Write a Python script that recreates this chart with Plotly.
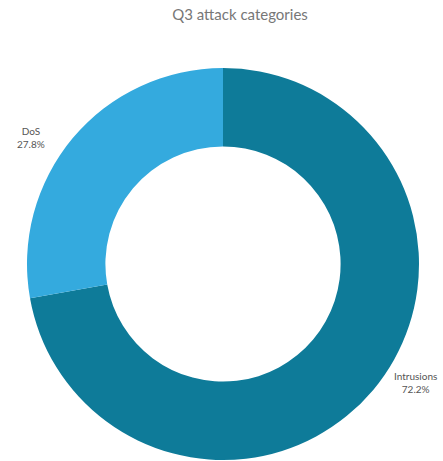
import math
import plotly.graph_objects as go

# Share of Q3 attack categories
categories = ["Intrusions", "DoS"]
shares = [72.2, 27.8]
slice_colors = ["#0e7b99", "#34aade"]

W, H = 443, 461
MARGIN = dict(l=3, r=0, t=68, b=1)

fig = go.Figure(
    go.Pie(
        labels=categories,
        values=shares,
        hole=0.6,
        sort=False,
        direction="clockwise",
        rotation=0,
        marker=dict(colors=slice_colors, line=dict(width=0)),
        textinfo="none",
        showlegend=False,
        hoverinfo="label+percent",
        domain=dict(x=[0, 1], y=[0, 1]),
    )
)

# Outside labels placed along each slice's mid-angle (clockwise from 12 o'clock)
plot_w = W - MARGIN["l"] - MARGIN["r"]
plot_h = H - MARGIN["t"] - MARGIN["b"]
radius = min(plot_w, plot_h) / 2
cx = MARGIN["l"] + plot_w / 2
cy = MARGIN["t"] + plot_h / 2
label_rise = 4  # px, lifts the two-line labels slightly
total = sum(shares)
start = 0.0
for name, val in zip(categories, shares):
    frac = val / total
    mid = (start + frac / 2) * 2 * math.pi
    start += frac
    lx = cx + 1.28 * radius * math.sin(mid)
    ly = cy - 0.97 * radius * math.cos(mid) - label_rise
    fig.add_annotation(
        text=f"{name}<br>{frac * 100:.1f}%",
        x=(lx - MARGIN["l"]) / plot_w,
        y=(H - MARGIN["b"] - ly) / plot_h,
        xref="paper",
        yref="paper",
        xanchor="center",
        yanchor="middle",
        showarrow=False,
        align="center",
        font=dict(size=10, color="#555555"),
    )

fig.update_layout(
    width=W,
    height=H,
    margin=MARGIN,
    paper_bgcolor="white",
    font=dict(family="Source Sans Pro, Lato, sans-serif"),
    title=dict(
        text="Q3 attack categories",
        x=240 / W,
        xref="container",
        xanchor="center",
        y=1 - 15 / H,
        yref="container",
        yanchor="middle",
        font=dict(size=15, color="#777777"),
    ),
)

fig.write_html("out.html")
